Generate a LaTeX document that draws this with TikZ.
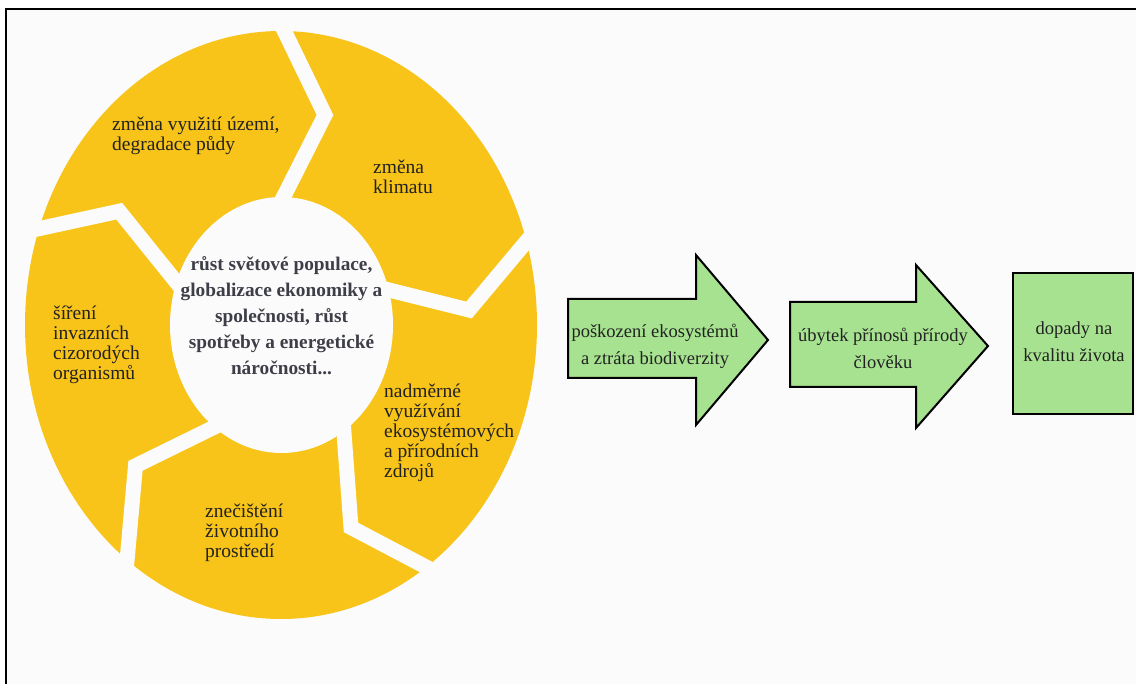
\documentclass[tikz,border=0pt]{standalone}
\usepackage{fontspec}
\setmainfont{Liberation Serif}
\definecolor{ringY}{HTML}{F8C41A}
\definecolor{bgc}{HTML}{FBFBFB}
\definecolor{arrG}{HTML}{A6E28F}
\definecolor{ctext}{HTML}{3E3E48}
\definecolor{stext}{HTML}{222222}
\begin{document}
\begin{tikzpicture}[x=1pt,y=-1pt,
  segtxt/.style={anchor=west, align=left, inner sep=0pt, text=stext, font=\fontsize{19.5}{20}\selectfont},
  midtxt/.style={align=center, inner sep=0pt, text=ctext, font=\bfseries\fontsize{19.3}{26}\selectfont},
  greentxt/.style={align=center, inner sep=0pt, text=stext, font=\fontsize{18.5}{27}\selectfont},
  greenshape/.style={fill=arrG, draw=black, line width=2pt, line join=miter},
  gap/.style={draw=bgc, line width=15pt, line join=miter, line cap=butt}
]
\useasboundingbox (0,0) rectangle (1136,684);
\fill[white] (0,0) rectangle (1136,684);
% frame
\fill[bgc] (6.2,9.5) rectangle (1136,684);
\draw[black, line width=2pt] (1136,9.5) -- (6.2,9.5) -- (6.2,684);

% ring
\fill[ringY] (281,325) ellipse [x radius=256pt, y radius=294pt];
\begin{scope}
  \clip (281,325) ellipse [x radius=258pt, y radius=296pt];
  \draw[gap] (274.6,10.9) -- (325,115) -- (271.7,220.3);
  \draw[gap] (4.8,236.1) -- (119.2,211.2) -- (196.2,306.8);
  \draw[gap] (241.2,413.9) -- (135.5,465.8) -- (123.6,599.1);
  \draw[gap] (341.2,395.2) -- (351,527.5) -- (457.4,583.5);
  \draw[gap] (357,282) -- (469,310) -- (548.8,214.8);
\end{scope}
\fill[bgc] (281.5,325) ellipse [x radius=111.5pt, y radius=128pt];

% ring texts
\node[midtxt] (core) at (281.5,316) {růst světové populace,\\globalizace ekonomiky a\\společnosti, růst\\spotřeby a energetické\\náročnosti...};
\node[segtxt] (land) at (112,136) {změna využití území,\\degradace půdy};
\node[segtxt] (clim) at (373,177) {změna\\klimatu};
\node[segtxt] (inv) at (53,345) {šíření\\invazních\\cizorodých\\organismů};
\node[segtxt] (over) at (384,433) {nadměrné\\využívání\\ekosystémových\\a přírodních\\zdrojů};
\node[segtxt] (poll) at (205,533) {znečištění\\životního\\prostředí};

% arrows
\draw[greenshape] (568,299) -- (696,299) -- (696,255) -- (768,340) -- (696,425) -- (696,378) -- (568,378) -- cycle;
\draw[greenshape] (790,302) -- (916,302) -- (916,265) -- (988,346) -- (916,428) -- (916,387) -- (790,387) -- cycle;
\draw[greenshape] (1013,273) rectangle (1133,414);
\node[greentxt] (eco) at (655,346) {poškození ekosystémů\\a ztráta biodiverzity};
\node[greentxt] (ben) at (883,348) {úbytek přínosů přírody\\člověku};
\node[greentxt] (qual) at (1074,342) {dopady na\\kvalitu života};
\end{tikzpicture}
\end{document}
